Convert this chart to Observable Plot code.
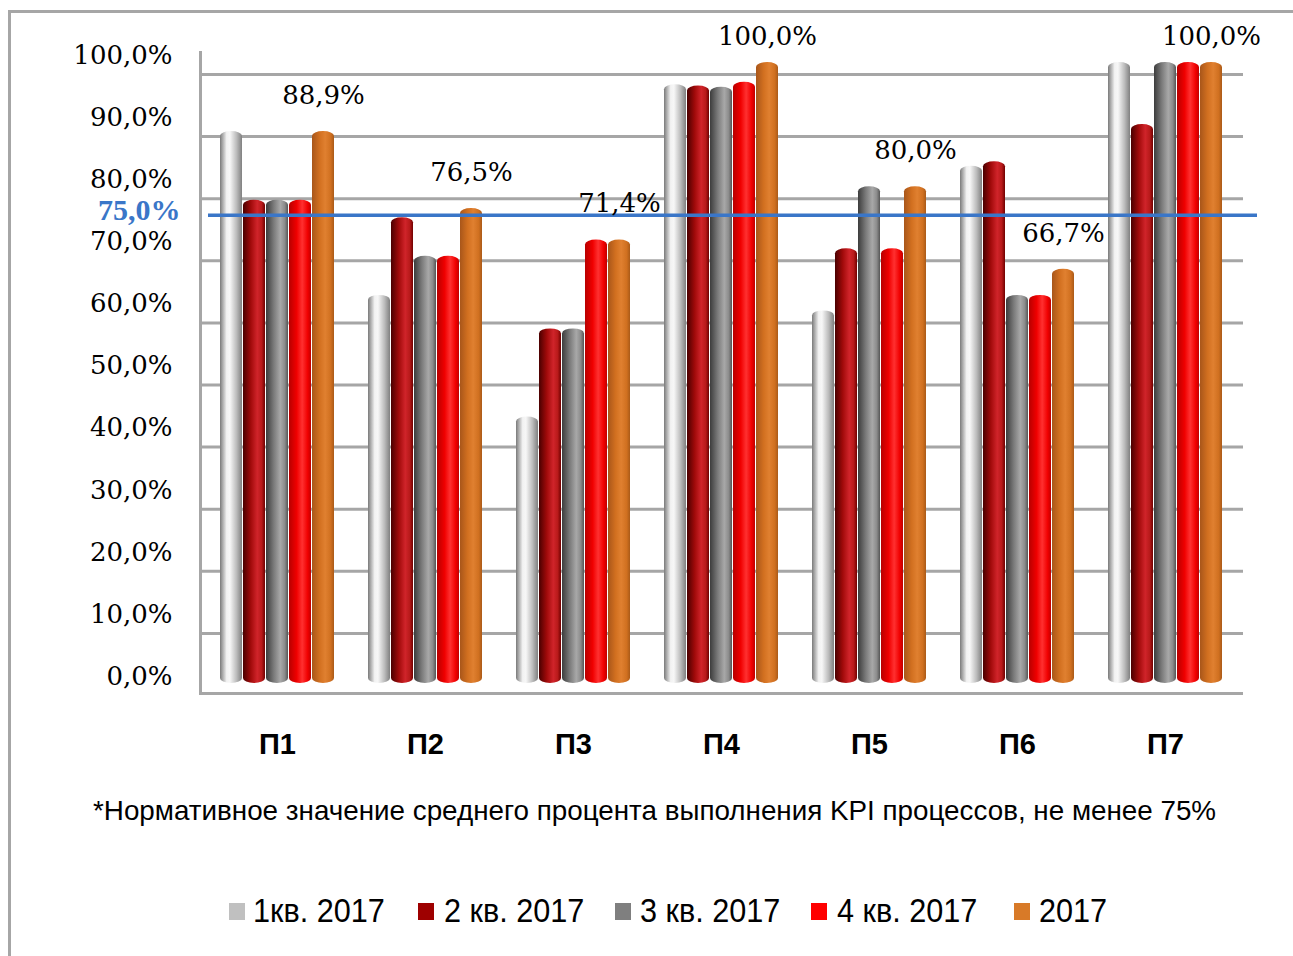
<!DOCTYPE html>
<html>
<head>
<meta charset="utf-8">
<script src="https://cdn.jsdelivr.net/npm/d3@7"></script>
<script src="https://cdn.jsdelivr.net/npm/@observablehq/plot@0.6"></script>
<style>
  html, body { margin: 0; padding: 0; background: #fff; }
  #wrap { position: relative; width: 1293px; height: 956px; overflow: hidden; }
  #border { position: absolute; left: 8px; top: 10px; right: -10px; bottom: -10px;
            border-left: 3px solid #a6a6a6; border-top: 3px solid #a6a6a6; }
  #chart { position: absolute; left: 0; top: 0; }
  #note { position: absolute; left: 93px; top: 795px; font-family: "Liberation Sans", Arial, sans-serif;
          font-size: 27.8px; line-height: 32px; color: #000; white-space: nowrap; }
  .lg-sq { position: absolute; width: 16px; height: 17px; top: 903px; }
  .lg-tx { position: absolute; top: 890px; font-family: "Liberation Sans", Arial, sans-serif; font-size: 34px;
           line-height: 40px; color: #000; white-space: nowrap; transform: scaleX(0.9); transform-origin: left center; }
</style>
</head>
<body>
<div id="wrap">
  <div id="border"></div>
  <div id="chart"></div>
  <div id="note"></div>
  <div id="legend"></div>
</div>
<script>
// ---- DATA ----
const categories = ["П1", "П2", "П3", "П4", "П5", "П6", "П7"];
const seriesNames = ["1кв. 2017", "2 кв. 2017", "3 кв. 2017", "4 кв. 2017", "2017"];
const q1 = [88.9, 62.5, 42.9, 96.4, 60.0, 83.3, 100.0];
const q2 = [77.8, 75.0, 57.1, 96.2, 70.0, 84.0, 90.0];
const q3 = [77.8, 68.8, 57.1, 96.0, 80.0, 62.5, 100.0];
const q4 = [77.8, 68.8, 71.4, 96.8, 70.0, 62.5, 100.0];
const y2017 = [88.9, 76.5, 71.4, 100.0, 80.0, 66.7, 100.0];
const yTicks = [0, 10, 20, 30, 40, 50, 60, 70, 80, 90, 100];
const normValue = 75;
const noteText = "*Нормативное значение среднего процента выполнения KPI процессов, не менее 75%";

// ---- styles ----
const legendColors = ["#c0c0c0", "#9e0000", "#7f7f7f", "#ff0000", "#d87a28"];
const gradStops = [
  [["0", "#7a7a7a"], ["0.3", "#f2f2f2"], ["0.45", "#f7f7f7"], ["0.75", "#bcbcbc"], ["1", "#808080"]],
  [["0", "#4a0000"], ["0.35", "#a00a0a"], ["0.65", "#d0242a"], ["0.85", "#b81a1a"], ["1", "#700000"]],
  [["0", "#3c3c3c"], ["0.35", "#7a7a7a"], ["0.65", "#a8a8a8"], ["0.85", "#8c8c8c"], ["1", "#555555"]],
  [["0", "#b80000"], ["0.35", "#f00000"], ["0.6", "#ff3030"], ["0.85", "#f00000"], ["1", "#c00000"]],
  [["0", "#a8561a"], ["0.35", "#d27020"], ["0.6", "#e08030"], ["0.85", "#d07020"], ["1", "#aa5a18"]]
];

const seriesValues = [q1, q2, q3, q4, y2017];
const tables = seriesValues.map((vals, s) =>
  categories.map((c, i) => ({cat: c, series: seriesNames[s], value: vals[i]})));
const labelRows = tables[4];
const fmt = v => v.toFixed(1).replace(".", ",") + "%";

const barW = 23;
const serif = "'DejaVu Serif', 'Liberation Serif', serif";
const serifB = "'Liberation Serif', 'Times New Roman', serif";

const marks = [
  Plot.ruleY(yTicks.filter(v => v > 0), {dy: 12, stroke: "#a6a6a6", strokeWidth: 3}),
  Plot.ruleY([0], {dy: 10, stroke: "#a6a6a6", strokeWidth: 3}),
  Plot.frame({anchor: "left", insetTop: -10, insetBottom: -10, stroke: "#a6a6a6", strokeWidth: 3}),
  ...tables.map((t, s) => Plot.barY(t, {
    x: "cat", y: "value",
    fill: `url(#grad${s})`,
    insetLeft: s * barW, insetRight: (4 - s) * barW,
    rx: 11, ry: 5
  })),
  Plot.ruleY([normValue], {dy: -2.5, stroke: "#3a76c8", strokeWidth: 3.5, insetLeft: 8, insetRight: -14}),
  Plot.text([normValue], {y: d => d, frameAnchor: "left", textAnchor: "end", dx: -20, dy: -7,
    text: d => fmt(d), fill: "#3a76c8", fontSize: 30, fontWeight: "bold", fontFamily: serifB}),
  Plot.text(labelRows.filter(d => d.value < 100), {x: "cat", y: "value", text: d => fmt(d.value),
    dx: 2 * barW, dy: -36, fontSize: 26, fontFamily: serif, fill: "#000"}),
  Plot.text(labelRows.filter(d => d.value >= 100), {x: "cat", y: "value", text: d => fmt(d.value),
    dx: 2 * barW, dy: -26, fontSize: 26, fontFamily: serif, fill: "#000"}),
  Plot.axisY({ticks: yTicks, tickFormat: fmt, tickSize: 0, tickPadding: 28, dy: -7,
    fontSize: 26, fontFamily: serif, fill: "#000", label: null}),
  Plot.axisX({tickSize: 0, tickPadding: 50, fontSize: 29, fontWeight: "bold",
    fontFamily: "'Liberation Sans', Arial, sans-serif", fill: "#000", label: null})
];

const svg = Plot.plot({
  width: 1293,
  height: 780,
  marginLeft: 200,
  marginRight: 50,
  marginTop: 62,
  marginBottom: 97,
  style: {background: "transparent", overflow: "visible"},
  x: {domain: categories, paddingInner: 0.227, paddingOuter: 0.118, axis: null},
  y: {domain: [0, 100], axis: null},
  marks
});

// gradients for the cylinder-like bars
const ns = "http://www.w3.org/2000/svg";
const defs = document.createElementNS(ns, "defs");
gradStops.forEach((stops, s) => {
  const g = document.createElementNS(ns, "linearGradient");
  g.setAttribute("id", "grad" + s);
  g.setAttribute("x1", "0"); g.setAttribute("x2", "1");
  g.setAttribute("y1", "0"); g.setAttribute("y2", "0");
  stops.forEach(([o, c]) => {
    const st = document.createElementNS(ns, "stop");
    st.setAttribute("offset", o);
    st.setAttribute("stop-color", c);
    g.appendChild(st);
  });
  defs.appendChild(g);
});
svg.insertBefore(defs, svg.firstChild);
document.getElementById("chart").appendChild(svg);

document.getElementById("note").textContent = noteText;

// legend
const sqLeft = [229, 418, 615, 811, 1014];
const txLeft = [253, 444, 640, 837, 1039];
const legend = document.getElementById("legend");
seriesNames.forEach((name, i) => {
  const sq = document.createElement("div");
  sq.className = "lg-sq";
  sq.style.left = sqLeft[i] + "px";
  sq.style.background = legendColors[i];
  legend.appendChild(sq);
  const tx = document.createElement("div");
  tx.className = "lg-tx";
  tx.style.left = txLeft[i] + "px";
  tx.textContent = name;
  legend.appendChild(tx);
});
</script>
</body>
</html>
